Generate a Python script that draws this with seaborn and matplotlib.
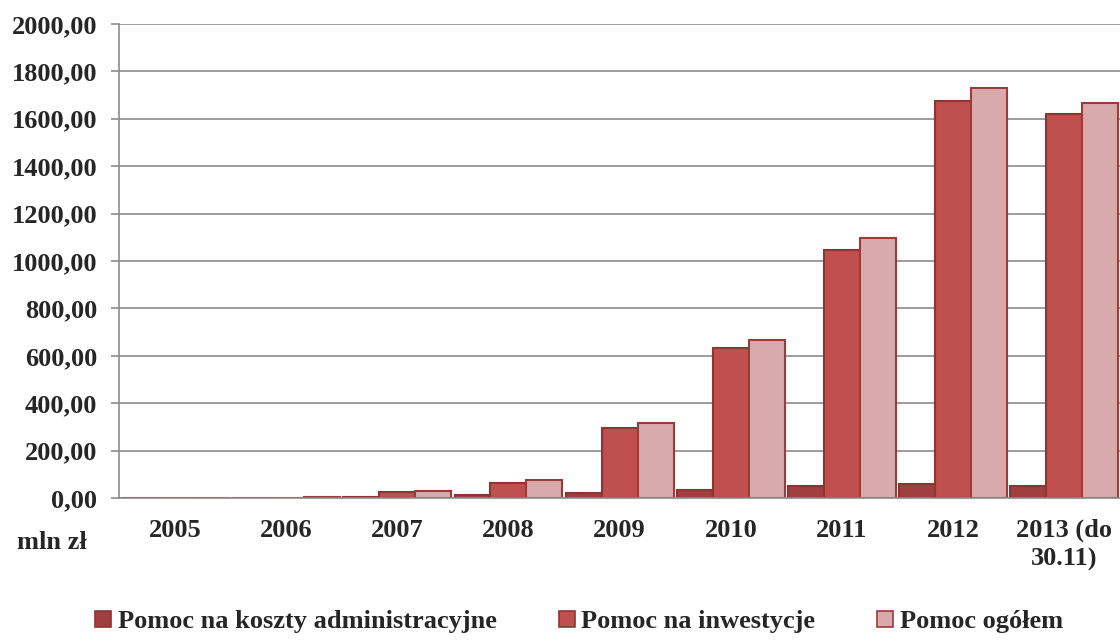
import matplotlib
matplotlib.use("Agg")
import matplotlib.pyplot as plt
import numpy as np
import pandas as pd
import seaborn as sns

years = ["2005", "2006", "2007", "2008", "2009", "2010", "2011", "2012", "2013 (do\n30.11)"]
series = ["Pomoc na koszty administracyjne", "Pomoc na inwestycje", "Pomoc ogółem"]
admin = [1, 1, 3, 12, 22, 34, 50, 58, 51]
invest = [0, 2, 24, 65, 295, 633, 1046, 1675, 1619]
total = [2, 3, 28, 76, 316, 667, 1097, 1731, 1668]

colors = ["#A0403E", "#C0504D", "#D9AAAB"]
edges = ["#8A3533", "#8E3634", "#9B3C3A"]

df = pd.DataFrame({
    "year": years * 3,
    "value": admin + invest + total,
    "series": [series[0]] * 9 + [series[1]] * 9 + [series[2]] * 9,
})

sns.set_style("white")
plt.rcParams["font.family"] = ["Liberation Serif", "DejaVu Serif"]
plt.rcParams["font.weight"] = "bold"
FS = 19

fig = plt.figure(figsize=(11.2, 6.41), dpi=100)
ax = fig.add_axes([0.1065, 0.223, 0.8935, 0.7397])

sns.barplot(data=df, x="year", y="value", hue="series", palette=colors,
            saturation=1, width=0.97, ax=ax, legend=False, linewidth=1.5)

# per-series edge colors
for i, cont in enumerate(ax.containers):
    for p in cont:
        p.set_edgecolor(edges[i])

ax.set_ylim(0, 2000)
ax.set_xlim(-0.5, 8.5)
ax.set_yticks(np.arange(0, 2001, 200))
ax.set_yticklabels([f"{v:.2f}".replace(".", ",") for v in np.arange(0, 2001, 200)],
                   fontsize=FS, fontweight="bold")
ax.yaxis.grid(True, color="#8C8C8C", linewidth=1.2)
ax.set_axisbelow(True)

ax.set_xticks(range(9))
ax.set_xticklabels(years, fontsize=FS, fontweight="bold", linespacing=1.3)
ax.tick_params(axis="x", length=0, pad=15)
ax.set_xticks(np.arange(-0.5, 9, 1), minor=True)
ax.tick_params(axis="x", which="minor", length=7, color="#8C8C8C", width=1.2)
ax.tick_params(axis="y", length=6, color="#8C8C8C", width=1.2, pad=10, left=True)

for s in ["top", "right"]:
    ax.spines[s].set_visible(False)
for s in ["left", "bottom"]:
    ax.spines[s].set_color("#8C8C8C")
    ax.spines[s].set_linewidth(1.2)

ax.set_xlabel("")
ax.set_ylabel("")
fig.text(0.015, 0.153, "mln zł", fontsize=FS, fontweight="bold", ha="left", va="center")

handles = [plt.Rectangle((0, 0), 1, 1, facecolor=c, edgecolor=e, linewidth=1.2)
           for c, e in zip(colors, edges)]
fig.legend(handles, series, loc="center", bbox_to_anchor=(0.517, 0.03), ncol=3,
           frameon=False, handlelength=0.6, handleheight=0.6,
           handletextpad=0.25, columnspacing=2.35, prop={"weight": "bold", "size": FS})

fig.savefig("out.png", dpi=100)
